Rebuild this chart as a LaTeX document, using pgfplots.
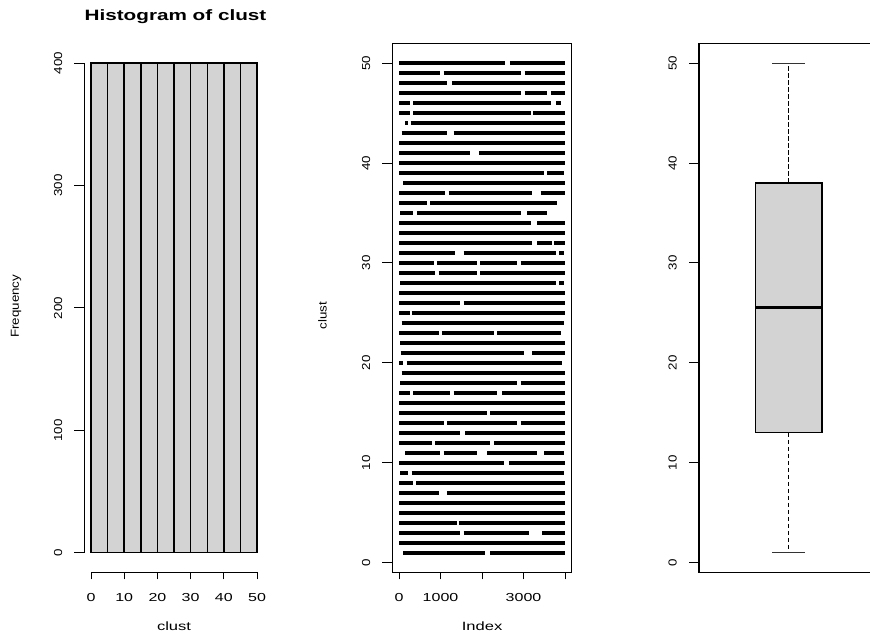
\documentclass[border=0pt]{standalone}
\usepackage{pgfplots}
\pgfplotsset{compat=1.18}
\usepackage{fontspec}
\setmainfont{Liberation Sans}
\newfontfamily\hfont[FakeStretch=1.38]{Liberation Sans}
\newfontfamily\vfont[FakeStretch=1.15]{Liberation Sans}
\definecolor{rgray}{RGB}{211,211,211}
\pgfplotsset{
  rstyle/.style={
    scale only axis, width=179.3pt, height=528.8pt, anchor=south west,
    tick align=outside, major tick length=10pt, tick pos=left,
    every tick/.style={black, line width=0.9pt},
    xtick style={/pgfplots/major tick length=7pt},
    xticklabel style={font=\hfont\fontsize{11.6}{13}\selectfont, anchor=north, inner sep=0pt, yshift=-11pt},
    yticklabel style={font=\vfont\fontsize{11.6}{13}\selectfont, anchor=south, inner sep=0pt, xshift=-12pt, rotate=90},
    xlabel style={at={(axis description cs:0.5,-0.110)}, anchor=base, font=\hfont\fontsize{12}{14}\selectfont},
    title style={font=\hfont\bfseries\fontsize{15}{17}\selectfont, anchor=base},
  }
}
\begin{document}
\begin{tikzpicture}[x=1pt,y=1pt]
\path[use as bounding box] (0,0) rectangle (870pt,635pt);
% ---------------- panel 1: histogram
\begin{axis}[rstyle, at={(84.4pt,62.7pt)},
  xmin=-2, xmax=52, ymin=-16, ymax=416,
  axis x line*=bottom, axis y line*=left, axis line style={draw=none},
  xtick={0,10,20,30,40,50}, xticklabels={0,10,20,30,40,50},
  ytick={0,100,200,300,400}, yticklabels={0,100,200,300,400},
  xlabel={clust}, ylabel={Frequency},
  ylabel style={at={(axis description cs:-0.3815,0.503)}, anchor=center, font=\vfont\fontsize{11.6}{13}\selectfont},
  title={Histogram of clust},
  title style={at={(axis description cs:0.508,1.0318)}},
  clip=false]
\addplot[ybar interval, fill=rgray, draw=black, line width=1.5pt] coordinates {
 (0,400) (5,400) (10,400) (15,400) (20,400) (25,400) (30,400) (35,400) (40,400) (45,400) (50,400)};
\draw[line width=1pt] (axis cs:0,-16) -- (axis cs:50,-16);
\draw[line width=1pt] (axis cs:-2,0) -- (axis cs:-2,400);
\end{axis}
% ---------------- panel 2: index plot
\begin{axis}[rstyle, at={(392.4pt,62.7pt)},
  xmin=-159, xmax=4160, ymin=-0.96, ymax=51.96,
  axis line style={line width=1.1pt},
  xtick={0,1000,2000,3000,4000}, xticklabels={0,1000,,3000,},
  ytick={0,10,20,30,40,50}, yticklabels={0,10,20,30,40,50},
  xlabel={Index}, ylabel={clust},
  ylabel style={at={(axis description cs:-0.39,0.485)}, anchor=center, font=\vfont\fontsize{11.6}{13}\selectfont},
  unbounded coords=jump]
\addplot[black, line width=3.7pt, line cap=butt, no markers] coordinates {
(8,50)(2550,50)(nan,nan)(2671,50)(4000,50)(nan,nan)
(8,49)(976,49)(nan,nan)(1073,49)(2929,49)(nan,nan)(3026,49)(4000,49)(nan,nan)
(8,48)(1154,48)(nan,nan)(1275,48)(4000,48)(nan,nan)
(8,47)(2929,47)(nan,nan)(3026,47)(3575,47)(nan,nan)(3656,47)(4000,47)(nan,nan)
(8,46)(266,46)(nan,nan)(347,46)(3656,46)(nan,nan)(3777,46)(3898,46)(nan,nan)
(8,45)(266,45)(nan,nan)(347,45)(3172,45)(nan,nan)(3236,45)(4000,45)(nan,nan)
(145,44)(226,44)(nan,nan)(282,44)(4000,44)(nan,nan)
(65,43)(1154,43)(nan,nan)(1315,43)(4000,43)(nan,nan)
(8,42)(4000,42)(nan,nan)
(8,41)(1719,41)(nan,nan)(1921,41)(4000,41)(nan,nan)
(8,40)(4000,40)(nan,nan)
(8,39)(3494,39)(nan,nan)(3575,39)(3979,39)(nan,nan)
(105,38)(4000,38)(nan,nan)
(8,37)(1114,37)(nan,nan)(1194,37)(3212,37)(nan,nan)(3414,37)(4000,37)(nan,nan)
(8,36)(670,36)(nan,nan)(751,36)(3817,36)(nan,nan)
(24,35)(347,35)(nan,nan)(428,35)(2929,35)(nan,nan)(3091,35)(3575,35)(nan,nan)
(8,34)(3172,34)(nan,nan)(3333,34)(4000,34)(nan,nan)
(8,33)(4000,33)(nan,nan)
(8,32)(3212,32)(nan,nan)(3333,32)(3696,32)(nan,nan)(3736,32)(4000,32)(nan,nan)
(8,31)(1356,31)(nan,nan)(1558,31)(3777,31)(nan,nan)(3857,31)(3979,31)(nan,nan)
(8,30)(831,30)(nan,nan)(912,30)(1880,30)(nan,nan)(1961,30)(2849,30)(nan,nan)(2929,30)(4000,30)(nan,nan)
(8,29)(872,29)(nan,nan)(952,29)(1880,29)(nan,nan)(1961,29)(4000,29)(nan,nan)
(24,28)(3777,28)(nan,nan)(3857,28)(3979,28)(nan,nan)
(8,27)(4000,27)(nan,nan)
(8,26)(1477,26)(nan,nan)(1558,26)(4000,26)(nan,nan)
(8,25)(266,25)(nan,nan)(307,25)(4000,25)(nan,nan)
(65,24)(3979,24)(nan,nan)
(8,23)(952,23)(nan,nan)(1033,23)(2284,23)(nan,nan)(2365,23)(3898,23)(nan,nan)
(24,22)(4000,22)(nan,nan)
(40,21)(3010,21)(nan,nan)(3212,21)(4000,21)(nan,nan)
(8,20)(105,20)(nan,nan)(186,20)(3938,20)(nan,nan)
(65,19)(4000,19)(nan,nan)
(24,18)(2849,18)(nan,nan)(2929,18)(4000,18)(nan,nan)
(8,17)(266,17)(nan,nan)(347,17)(1235,17)(nan,nan)(1315,17)(2365,17)(nan,nan)(2486,17)(4000,17)(nan,nan)
(8,16)(4000,16)(nan,nan)
(8,15)(2122,15)(nan,nan)(2203,15)(4000,15)(nan,nan)
(8,14)(1073,14)(nan,nan)(1154,14)(2849,14)(nan,nan)(2929,14)(4000,14)(nan,nan)
(8,13)(1477,13)(nan,nan)(1598,13)(4000,13)(nan,nan)
(8,12)(791,12)(nan,nan)(872,12)(2203,12)(nan,nan)(2284,12)(4000,12)(nan,nan)
(145,11)(993,11)(nan,nan)(1073,11)(1880,11)(nan,nan)(2122,11)(3333,11)(nan,nan)(3494,11)(3979,11)(nan,nan)
(8,10)(2526,10)(nan,nan)(2647,10)(4000,10)(nan,nan)
(24,9)(226,9)(nan,nan)(307,9)(3979,9)(nan,nan)
(8,8)(347,8)(nan,nan)(412,8)(4000,8)(nan,nan)
(8,7)(952,7)(nan,nan)(1154,7)(4000,7)(nan,nan)
(8,6)(4000,6)(nan,nan)
(8,5)(4000,5)(nan,nan)
(1,4)(1395,4)(nan,nan)(1436,4)(4000,4)(nan,nan)
(1,3)(1476,3)(nan,nan)(1557,3)(3129,3)(nan,nan)(3452,3)(4000,3)(nan,nan)
(1,2)(4000,2)(nan,nan)
(105,1)(2081,1)(nan,nan)(2202,1)(4000,1)
};
\end{axis}
% ---------------- panel 3: boxplot
\begin{axis}[rstyle, at={(699pt,62.7pt)},
  xmin=0.46, xmax=1.54, ymin=-0.96, ymax=51.96,
  axis line style={line width=1.1pt},
  xtick=\empty,
  ytick={0,10,20,30,40,50}, yticklabels={0,10,20,30,40,50}]
\addplot[fill=rgray, draw=black, line width=1.3pt] coordinates {(0.8,13) (1.2,13) (1.2,38) (0.8,38)} -- cycle;
\addplot[black, line width=3pt] coordinates {(0.8,25.5) (1.2,25.5)};
\addplot[black, line width=1.6pt, dash pattern=on 4.5pt off 2.5pt] coordinates {(1,38) (1,50)};
\addplot[black, line width=1.6pt, dash pattern=on 4.5pt off 2.5pt] coordinates {(1,13) (1,1)};
\addplot[black!80, line width=1.1pt] coordinates {(0.9,50) (1.1,50)};
\addplot[black!80, line width=1.1pt] coordinates {(0.9,1) (1.1,1)};
\end{axis}
\end{tikzpicture}
\end{document}
